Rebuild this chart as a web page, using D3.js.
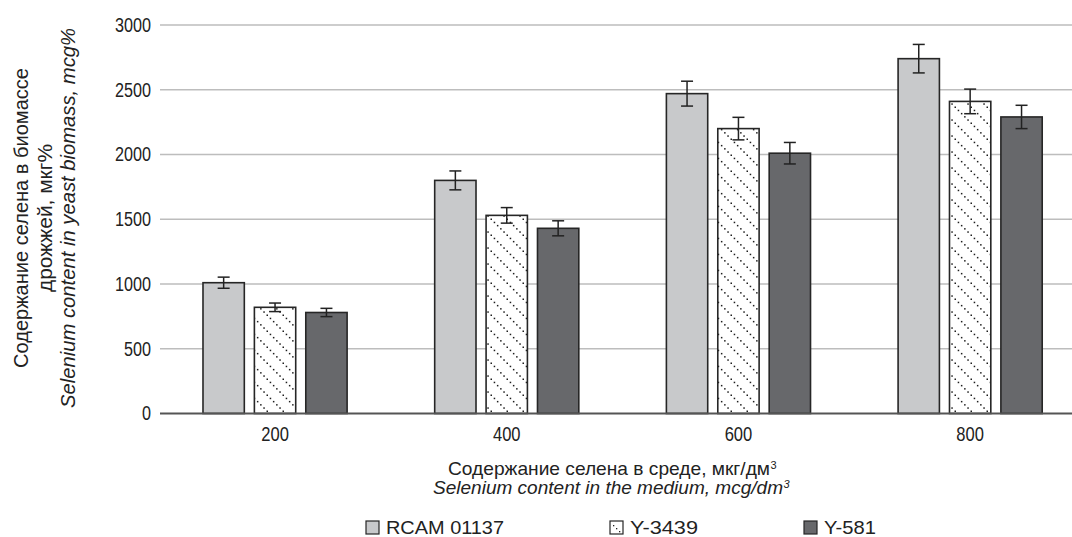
<!DOCTYPE html>
<html>
<head>
<meta charset="utf-8">
<script src="https://cdn.jsdelivr.net/npm/d3@7"></script>
<style>
  html, body { margin: 0; padding: 0; background: #fff; }
  svg { display: block; font-family: "Liberation Sans", Arial, sans-serif; }
</style>
</head>
<body>
<svg id="chart" width="1072" height="537"></svg>
<script>
// Selenium concentration in medium (groups)
const categories = ["200", "400", "600", "800"];
// Yeast strains (series)
const seriesNames = ["RCAM 01137", "Y-3439", "Y-581"];
// Selenium content in biomass, mcg%
const rcamValues  = [1010, 1800, 2470, 2740];
const y3439Values = [820, 1530, 2200, 2410];
const y581Values  = [780, 1430, 2010, 2290];
// Error bar half-widths
const rcamErrors  = [43, 73, 96, 110];
const y3439Errors = [33, 60, 87, 95];
const y581Errors  = [32, 58, 83, 90];
// Y axis ticks
const yTicks = [0, 500, 1000, 1500, 2000, 2500, 3000];

const seriesValues = [rcamValues, y3439Values, y581Values];
const seriesErrors = [rcamErrors, y3439Errors, y581Errors];

const svg = d3.select("#chart");
const W = 1072;
const ink = "#222";

// Condensed lettering: glyphs squeezed to a fixed run length
function squeeze(sel, len) {
  return sel.attr("textLength", len).attr("lengthAdjust", "spacingAndGlyphs");
}

// Pattern for the hatched strain: dotted diagonal lines
const defs = svg.append("defs");
const P = 16;
const pat = defs.append("pattern")
  .attr("id", "dotHatch")
  .attr("patternUnits", "userSpaceOnUse")
  .attr("width", P).attr("height", P);
pat.append("rect").attr("width", P).attr("height", P).attr("fill", "#fff");
d3.range(5).forEach(k => {
  const p = 0.9 + k * P / 5;
  pat.append("rect").attr("x", p).attr("y", p).attr("width", 1.5).attr("height", 1.5).attr("fill", "#1e1e1e");
});

const fills = ["#c8c9cb", "url(#dotHatch)", "#67686b"];

const x0 = d3.scaleBand()
  .domain(categories)
  .range([159.2, 1086])
  .paddingInner(0.378)
  .paddingOuter(0.189);

const x1 = d3.scaleBand()
  .domain(seriesNames)
  .range([0, x0.bandwidth()])
  .paddingInner(0.196)
  .paddingOuter(0);

const y = d3.scaleLinear()
  .domain([0, 3000])
  .range([413.5, 25]);

// Gridlines
svg.append("g")
  .selectAll("line")
  .data(yTicks.filter(d => d > 0))
  .join("line")
  .attr("x1", 160).attr("x2", W)
  .attr("y1", d => y(d)).attr("y2", d => y(d))
  .attr("stroke", "#bdbdbd")
  .attr("stroke-width", 1.5);

// Y axis labels
const yAxis = d3.axisLeft(y).tickValues(yTicks).tickFormat(d3.format("d")).tickSize(0).tickPadding(0);
const yg = svg.append("g").attr("transform", "translate(151,0)").call(yAxis);
yg.select(".domain").remove();
yg.selectAll("text")
  .attr("font-size", 20)
  .attr("fill", ink)
  .attr("font-family", "Liberation Sans, Arial, sans-serif")
  .attr("textLength", d => String(d).length * 9)
  .attr("lengthAdjust", "spacingAndGlyphs");

// Bars
const rows = [];
categories.forEach((c, i) => {
  seriesNames.forEach((s, j) => {
    rows.push({ cat: c, name: s, idx: j, value: seriesValues[j][i], err: seriesErrors[j][i] });
  });
});

svg.append("g")
  .selectAll("rect")
  .data(rows)
  .join("rect")
  .attr("x", d => x0(d.cat) + x1(d.name))
  .attr("y", d => y(d.value))
  .attr("width", x1.bandwidth())
  .attr("height", d => y(0) - y(d.value))
  .attr("fill", d => fills[d.idx])
  .attr("stroke", "#262626")
  .attr("stroke-width", 1.6);

// Baseline
svg.append("line")
  .attr("x1", 160).attr("x2", W)
  .attr("y1", y(0)).attr("y2", y(0))
  .attr("stroke", "#555")
  .attr("stroke-width", 2);

// Error bars
const eg = svg.append("g").attr("stroke", ink).attr("stroke-width", 1.5);
rows.forEach(d => {
  const cx = x0(d.cat) + x1(d.name) + x1.bandwidth() / 2;
  const top = y(d.value + d.err), bot = y(d.value - d.err);
  eg.append("line").attr("x1", cx).attr("x2", cx).attr("y1", top).attr("y2", bot);
  eg.append("line").attr("x1", cx - 6).attr("x2", cx + 6).attr("y1", top).attr("y2", top);
  eg.append("line").attr("x1", cx - 6).attr("x2", cx + 6).attr("y1", bot).attr("y2", bot);
});

// X axis labels
const xAxis = d3.axisBottom(x0).tickSize(0).tickPadding(0);
const xg = svg.append("g").attr("transform", "translate(0,427)").call(xAxis);
xg.select(".domain").remove();
xg.selectAll("text")
  .attr("font-size", 20)
  .attr("fill", ink)
  .attr("dy", "0.72em")
  .attr("font-family", "Liberation Sans, Arial, sans-serif")
  .attr("textLength", d => d.length * 9.2)
  .attr("lengthAdjust", "spacingAndGlyphs");

// X axis title (two lines, second in italics), each ending with a superscript 3
function titleLine(text, cx, baseline, len, italic) {
  const t = svg.append("text")
    .attr("x", cx - (len + 6) / 2).attr("y", baseline)
    .attr("font-size", 19)
    .attr("font-style", italic ? "italic" : null)
    .attr("fill", ink);
  squeeze(t.append("tspan").text(text), len);
  t.append("tspan")
    .attr("font-size", 11)
    .attr("dx", 0.5)
    .attr("baseline-shift", "6")
    .text("3");
}
titleLine("Содержание селена в среде, мкг/дм", 612, 475, 322, false);
titleLine("Selenium content in the medium, mcg/dm", 611, 494, 350, true);

// Y axis title (three lines, rotated)
const ytLines = [
  { t: "Содержание селена в биомассе", x: 28, len: 300, it: false },
  { t: "дрожжей, мкг%", x: 52, len: 148, it: false },
  { t: "Selenium content in yeast biomass, mcg%", x: 75, len: 380, it: true }
];
ytLines.forEach(l => {
  squeeze(svg.append("text")
    .attr("transform", `translate(${l.x},218) rotate(-90)`)
    .attr("text-anchor", "middle")
    .attr("font-size", 20)
    .attr("font-style", l.it ? "italic" : null)
    .attr("fill", ink)
    .text(l.t), l.len);
});

// Legend
const legendX = [366, 610, 804];
const legendLen = [118, 68, 52];
const lg = svg.append("g");
seriesNames.forEach((s, j) => {
  lg.append("rect")
    .attr("x", legendX[j]).attr("y", 521)
    .attr("width", 13).attr("height", 13)
    .attr("fill", j === 1 ? "#fff" : fills[j])
    .attr("stroke", "#262626").attr("stroke-width", 1.2);
  if (j === 1) {
    [[3, 4], [6, 7], [9, 10]].forEach(p => {
      lg.append("rect").attr("x", legendX[j] + p[0]).attr("y", 521 + p[1])
        .attr("width", 1.3).attr("height", 1.3).attr("fill", ink);
    });
  }
  squeeze(lg.append("text")
    .attr("x", legendX[j] + 20).attr("y", 534)
    .attr("font-size", 19).attr("fill", ink)
    .text(s), legendLen[j]);
});
</script>
</body>
</html>
